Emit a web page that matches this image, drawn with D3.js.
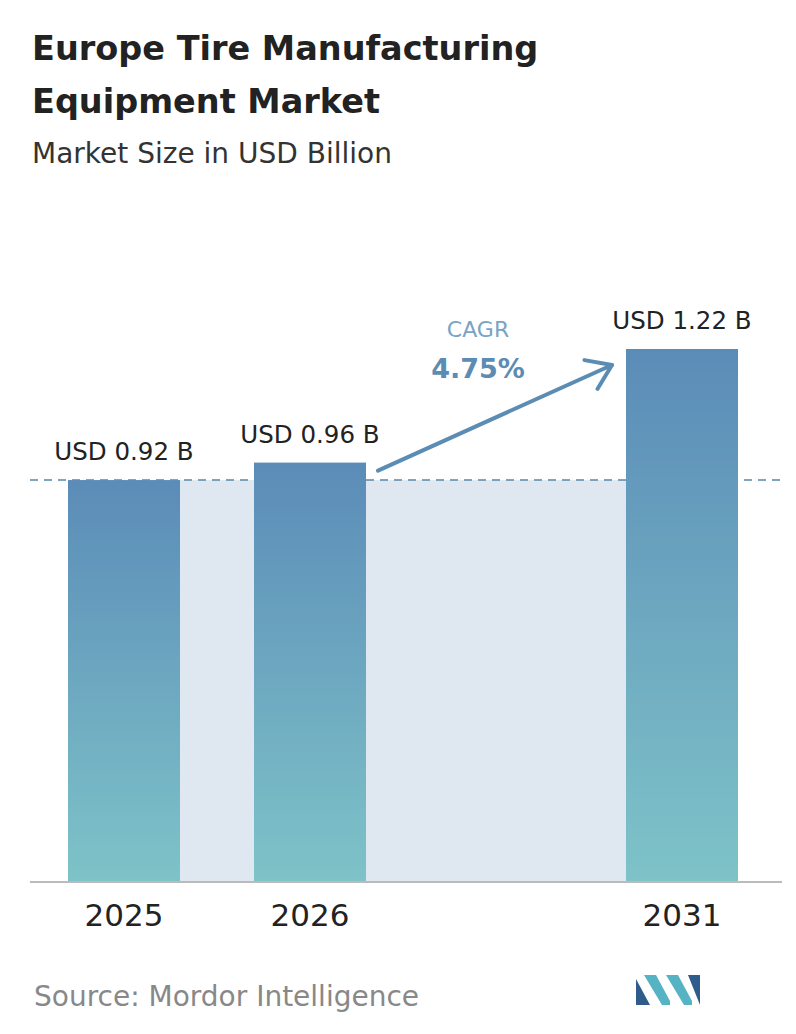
<!DOCTYPE html>
<html><head><meta charset="utf-8">
<script src="https://cdn.jsdelivr.net/npm/d3@7"></script>
<style>body{margin:0;background:#fff}</style>
</head><body>
<svg id="chart" width="796" height="1034"></svg>
<script>
var years = ["2025", "2026", "2031"];
var values = [0.92, 0.96, 1.22];
var labels = ["USD 0.92 B", "USD 0.96 B", "USD 1.22 B"];
var cagr = "4.75%";

var svg = d3.select("#chart");
var font = "'DejaVu Sans', sans-serif";

var defs = svg.append("defs");
var g = defs.append("linearGradient").attr("id", "bargrad").attr("x1", 0).attr("y1", 0).attr("x2", 0).attr("y2", 1);
g.append("stop").attr("offset", "0%").attr("stop-color", "#5b8cb8");
g.append("stop").attr("offset", "100%").attr("stop-color", "#7ec3c8");

svg.append("text").attr("x", 32).attr("y", 60).text("Europe Tire Manufacturing").style("font-family", font).style("font-weight", "700").style("font-size", "33.5px").style("fill", "#222");
svg.append("text").attr("x", 32).attr("y", 113).text("Equipment Market").style("font-family", font).style("font-weight", "700").style("font-size", "33.5px").style("fill", "#222");
svg.append("text").attr("x", 32).attr("y", 163).text("Market Size in USD Billion").style("font-family", font).style("font-size", "28px").style("fill", "#333");

var baseY = 882;
var y = d3.scaleLinear().domain([0, 1.22]).range([baseY, 349]);
var xPos = [68, 254, 626];
var bw = 112;
var x = d3.scaleOrdinal().domain(years).range(xPos);

svg.append("rect").attr("x", x(years[0])).attr("y", y(values[0]))
  .attr("width", x(years[2]) - x(years[0])).attr("height", baseY - y(values[0]))
  .style("fill", "#dfe8f1");

svg.append("line").attr("x1", 30).attr("x2", 782).attr("y1", y(values[0])).attr("y2", y(values[0]))
  .style("stroke", "#5b86a8").style("stroke-width", 1.5).style("stroke-dasharray", "8,6");

svg.selectAll(".bar").data(values).enter().append("rect")
  .attr("x", function(d, i){ return x(years[i]); })
  .attr("y", function(d){ return y(d); })
  .attr("width", bw)
  .attr("height", function(d){ return baseY - y(d); })
  .style("fill", "url(#bargrad)");

svg.append("line").attr("x1", 30).attr("x2", 782).attr("y1", baseY).attr("y2", baseY).style("stroke", "#bbb").style("stroke-width", 2);

svg.selectAll(".vlab").data(labels).enter().append("text")
  .attr("x", function(d, i){ return x(years[i]) + bw / 2; })
  .attr("y", function(d, i){ return y(values[i]) - 20; })
  .attr("text-anchor", "middle").text(function(d){ return d; })
  .style("font-family", font).style("font-size", "24.5px").style("fill", "#222");

svg.selectAll(".xlab").data(years).enter().append("text")
  .attr("x", function(d){ return x(d) + bw / 2; })
  .attr("y", 926).attr("text-anchor", "middle").text(function(d){ return d; })
  .style("font-family", font).style("font-size", "31px").style("fill", "#222");

var ax1 = x(years[1]) + bw + 12, ay1 = y(values[1]) + 8, ax2 = x(years[2]) - 14, ay2 = y(values[2]) + 16;
svg.append("line").attr("x1", ax1).attr("y1", ay1).attr("x2", ax2).attr("y2", ay2)
  .style("stroke", "#5b8cb3").style("stroke-width", 4).style("stroke-linecap", "round");
var ang = Math.atan2(ay2 - ay1, ax2 - ax1);
var hl = 28;
svg.append("path").attr("d",
  "M" + (ax2 - hl * Math.cos(ang - 0.6)) + "," + (ay2 - hl * Math.sin(ang - 0.6)) +
  "L" + ax2 + "," + ay2 +
  "L" + (ax2 - hl * Math.cos(ang + 0.6)) + "," + (ay2 - hl * Math.sin(ang + 0.6)))
  .style("fill", "none").style("stroke", "#5b8cb3").style("stroke-width", 4).style("stroke-linecap", "round").style("stroke-linejoin", "round");
svg.append("text").attr("x", 478).attr("y", 337).attr("text-anchor", "middle").text("CAGR").style("font-family", font).style("font-size", "22px").style("fill", "#7aa3c4");
svg.append("text").attr("x", 478).attr("y", 378).attr("text-anchor", "middle").text(cagr).style("font-family", font).style("font-weight", "700").style("font-size", "27px").style("fill", "#5b8cb3");

svg.append("text").attr("x", 34).attr("y", 1006).text("Source: Mordor Intelligence").style("font-family", font).style("font-size", "28px").style("fill", "#888");

var lg = svg.append("g").attr("transform", "translate(636,975)");
lg.append("path").attr("d", "M0,30 L0,4 L14,30 Z").style("fill", "#2f5c8a");
lg.append("path").attr("d", "M8,0 L20,0 L34,26 L34,30 L26,30 Z").style("fill", "#56b3c4");
lg.append("path").attr("d", "M30,0 L42,0 L56,26 L56,30 L48,30 Z").style("fill", "#56b3c4");
lg.append("path").attr("d", "M52,0 L64,0 L64,30 Z").style("fill", "#2f5c8a");
</script>
</body></html>
